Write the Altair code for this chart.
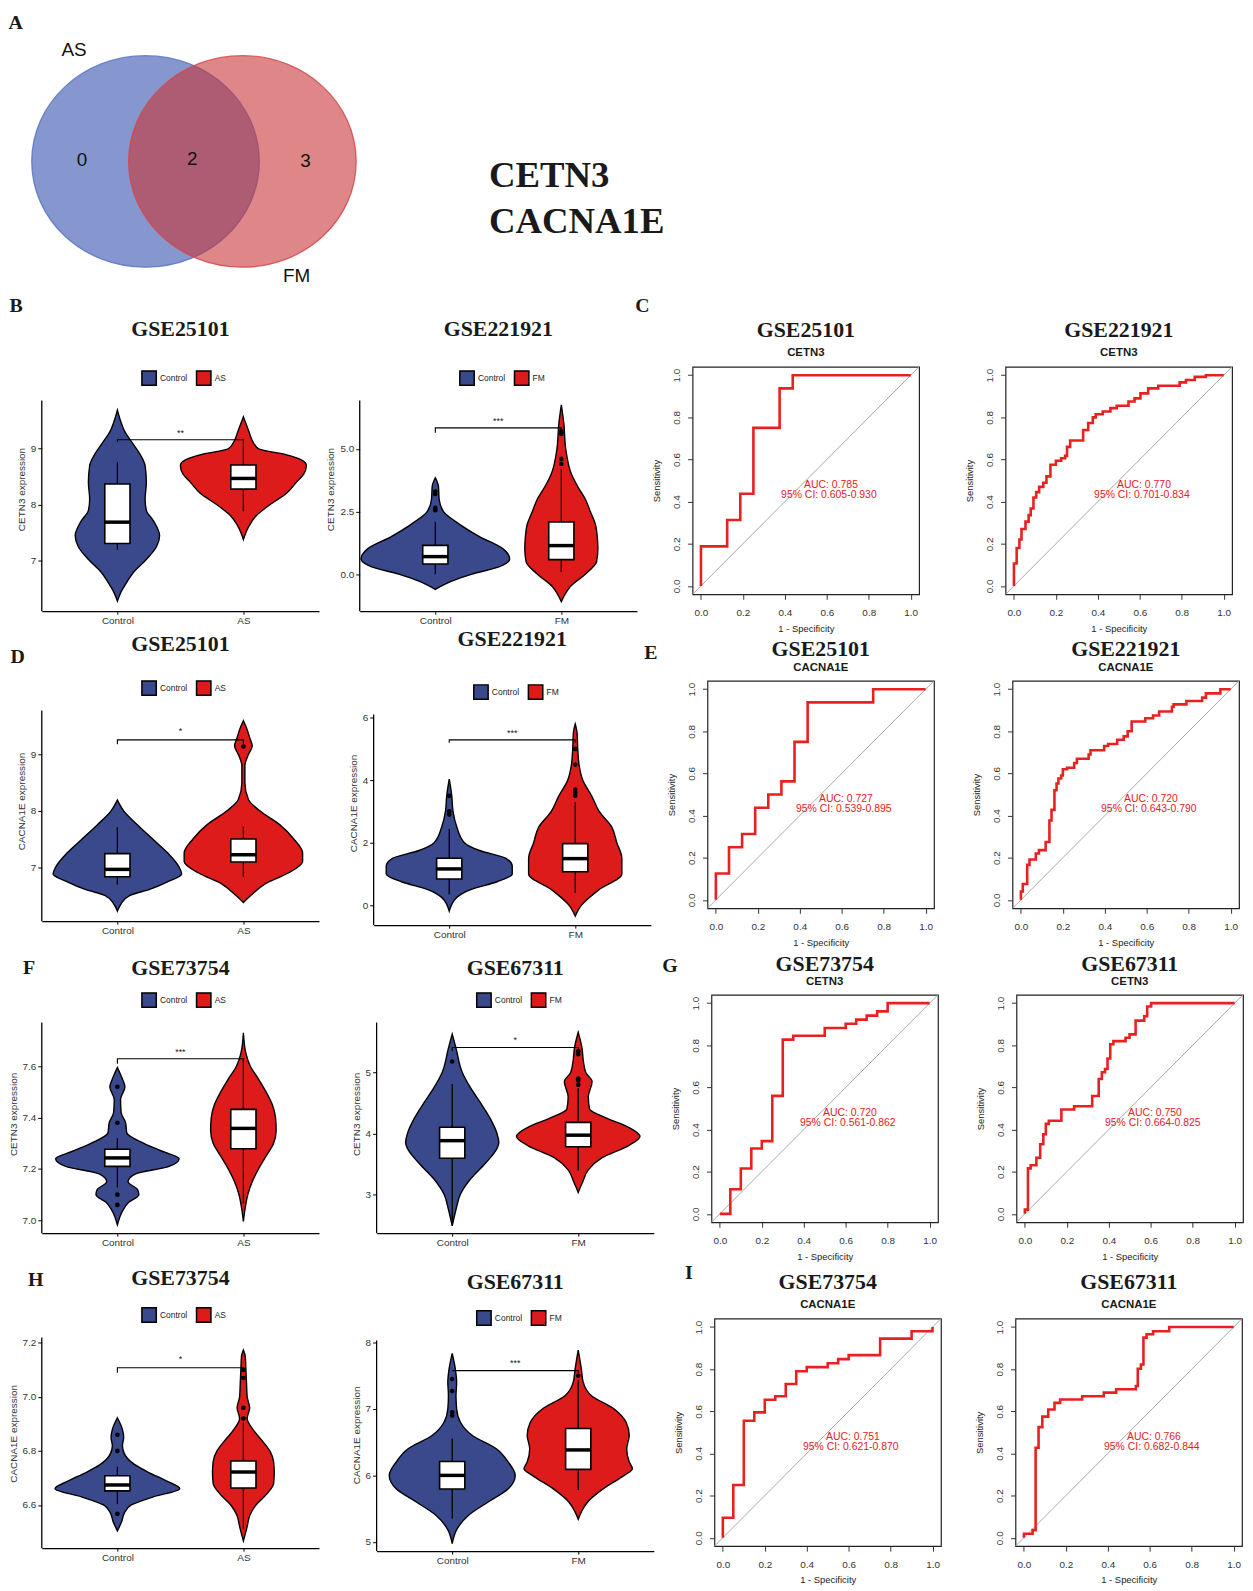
import altair as alt
import pandas as pd

# ---------------- colours / fonts ----------------
NAVY = "#3A488C"
RED = "#DC1B1A"
ROC_RED = "#E8201E"
DIAG_GREY = "#A8A8A8"
VENN_FILL = ["#3550AD", "#C83539"]
VENN_EDGE = ["#5B74C6", "#D4494D"]
SERIF = "Liberation Serif"
SANS = "Liberation Sans"
INK = "#1A1A1A"

# ---------------- Panel A: Venn ----------------
VENN_SETS = ["AS", "FM"]
VENN_REGION_COUNTS = ["0", "2", "3"]      # AS only, shared, FM only
SHARED_GENES = ["CETN3", "CACNA1E"]

# ---------------- violin data (expression level, half width) ----------------
GROUPS_AS = ["Control", "AS"]
GROUPS_FM = ["Control", "FM"]

# B left: GSE25101 CETN3
B1_CTRL_Y = [6.28, 6.45, 6.6, 6.8, 7.0, 7.25, 7.45, 7.7, 7.9, 8.1, 8.4, 8.7, 8.9, 9.1, 9.3, 9.5, 9.69]
B1_CTRL_W = [0.0, 0.03, 0.07, 0.13, 0.22, 0.31, 0.335, 0.29, 0.23, 0.22, 0.23, 0.22, 0.18, 0.12, 0.06, 0.025, 0.0]
B1_DIS_Y = [7.38, 7.6, 7.8, 8.0, 8.2, 8.4, 8.55, 8.7, 8.8, 8.9, 9.0, 9.15, 9.3, 9.45, 9.57]
B1_DIS_W = [0.0, 0.04, 0.1, 0.21, 0.34, 0.42, 0.48, 0.5, 0.46, 0.33, 0.12, 0.07, 0.045, 0.02, 0.0]
B1_CTRL_BOX = [7.2, 7.31, 7.69, 8.37, 8.76]
B1_DIS_BOX = [7.88, 8.28, 8.47, 8.71, 9.06]
B1_CTRL_OUT = []
B1_DIS_OUT = []
B1_BRACKET = [9.12, 9.16, 9.06]
B1_SIG = ["**", 9.28]

# B right: GSE221921 CETN3
B2_CTRL_Y = [-0.61, -0.3, 0.0, 0.3, 0.6, 1.0, 1.5, 2.0, 2.5, 3.0, 3.5, 3.85]
B2_CTRL_W = [0.0, 0.12, 0.29, 0.51, 0.59, 0.54, 0.35, 0.19, 0.065, 0.03, 0.025, 0.0]
B2_DIS_Y = [-1.1, -0.8, -0.5, 0.0, 0.5, 1.0, 1.5, 2.0, 2.5, 3.0, 3.5, 4.0, 5.0, 6.0, 6.76]
B2_DIS_W = [0.0, 0.03, 0.07, 0.19, 0.28, 0.29, 0.285, 0.27, 0.23, 0.19, 0.13, 0.08, 0.035, 0.02, 0.0]
B2_CTRL_BOX = [0.0, 0.405, 0.70, 1.15, 2.09]
B2_DIS_BOX = [0.09, 0.58, 1.14, 2.08, 4.19]
B2_CTRL_OUT = [2.55, 2.65, 3.2, 3.3]
B2_DIS_OUT = [4.4, 4.6, 5.6, 5.7]
B2_BRACKET = [5.65, 5.84, 5.6]
B2_SIG = ["***", 6.1]

# D left: GSE25101 CACNA1E
D1_CTRL_Y = [6.22, 6.35, 6.5, 6.6, 6.75, 6.88, 7.0, 7.25, 7.5, 7.75, 8.0, 8.19]
D1_CTRL_W = [0.0, 0.03, 0.1, 0.25, 0.41, 0.51, 0.49, 0.40, 0.28, 0.16, 0.05, 0.0]
D1_DIS_Y = [6.37, 6.5, 6.7, 6.9, 7.1, 7.25, 7.5, 7.75, 8.0, 8.2, 8.5, 8.8, 9.0, 9.15, 9.3, 9.5, 9.6]
D1_DIS_W = [0.0, 0.06, 0.17, 0.36, 0.47, 0.47, 0.40, 0.29, 0.13, 0.04, 0.012, 0.012, 0.04, 0.07, 0.05, 0.02, 0.0]
D1_CTRL_BOX = [6.69, 6.83, 6.96, 7.24, 7.71]
D1_DIS_BOX = [6.83, 7.09, 7.22, 7.5, 7.72]
D1_CTRL_OUT = []
D1_DIS_OUT = [9.14]
D1_BRACKET = [9.18, 9.26, 9.18]
D1_SIG = ["*", 9.42]

# D right: GSE221921 CACNA1E
D2_CTRL_Y = [-0.19, 0.25, 0.5, 0.75, 1.0, 1.25, 1.5, 1.75, 2.0, 2.5, 3.0, 3.5, 4.03]
D2_CTRL_W = [0.0, 0.06, 0.17, 0.38, 0.5, 0.5, 0.45, 0.24, 0.12, 0.06, 0.03, 0.02, 0.0]
D2_DIS_Y = [-0.35, 0.0, 0.5, 1.0, 1.5, 2.0, 2.5, 3.0, 3.5, 4.0, 4.5, 5.0, 5.5, 5.8]
D2_DIS_W = [0.0, 0.05, 0.19, 0.37, 0.37, 0.33, 0.29, 0.19, 0.13, 0.06, 0.03, 0.02, 0.015, 0.0]
D2_CTRL_BOX = [0.34, 0.84, 1.16, 1.5, 2.44]
D2_DIS_BOX = [0.39, 1.07, 1.49, 1.97, 3.29]
D2_CTRL_OUT = [2.9, 3.0, 3.5]
D2_DIS_OUT = [3.5, 3.6, 3.7, 4.5, 5.0]
D2_BRACKET = [5.2, 5.29, 5.2]
D2_SIG = ["***", 5.5]

# F left: GSE73754 CETN3
F1_CTRL_Y = [6.983, 7.04, 7.07, 7.1, 7.12, 7.15, 7.18, 7.21, 7.24, 7.27, 7.3, 7.34, 7.38, 7.42, 7.47, 7.52, 7.55, 7.595]
F1_CTRL_W = [0.0, 0.045, 0.09, 0.17, 0.16, 0.085, 0.14, 0.41, 0.49, 0.35, 0.21, 0.075, 0.065, 0.03, 0.025, 0.06, 0.04, 0.0]
F1_DIS_Y = [6.996, 7.05, 7.1, 7.15, 7.2, 7.25, 7.3, 7.35, 7.4, 7.45, 7.5, 7.55, 7.6, 7.65, 7.73]
F1_DIS_W = [0.0, 0.015, 0.035, 0.07, 0.12, 0.18, 0.24, 0.26, 0.255, 0.23, 0.18, 0.12, 0.055, 0.02, 0.0]
F1_CTRL_BOX = [7.128, 7.21, 7.243, 7.277, 7.32]
F1_DIS_BOX = [7.066, 7.279, 7.358, 7.432, 7.63]
F1_CTRL_OUT = [7.52, 7.38, 7.1, 7.06]
F1_DIS_OUT = []
F1_BRACKET = [7.61, 7.629, 7.62]
F1_SIG = ["***", 7.655]

# F right: GSE67311 CETN3
F2_CTRL_Y = [2.48, 2.75, 3.0, 3.25, 3.5, 3.75, 3.85, 4.0, 4.25, 4.5, 4.75, 5.0, 5.4, 5.63]
F2_CTRL_W = [0.0, 0.03, 0.065, 0.145, 0.26, 0.355, 0.37, 0.355, 0.3, 0.225, 0.145, 0.08, 0.03, 0.0]
F2_DIS_Y = [3.03, 3.2, 3.4, 3.6, 3.8, 3.95, 4.1, 4.25, 4.4, 4.6, 4.85, 5.0, 5.2, 5.4, 5.66]
F2_DIS_W = [0.0, 0.035, 0.08, 0.19, 0.4, 0.49, 0.4, 0.225, 0.09, 0.08, 0.11, 0.06, 0.04, 0.03, 0.0]
F2_CTRL_BOX = [2.55, 3.59, 3.88, 4.1, 4.81]
F2_DIS_BOX = [3.39, 3.78, 3.97, 4.18, 4.74]
F2_CTRL_OUT = [5.18]
F2_DIS_OUT = [4.8, 4.87, 4.9, 5.3, 5.35]
F2_BRACKET = [5.35, 5.41, 5.33]
F2_SIG = ["*", 5.54]

# H left: GSE73754 CACNA1E
H1_CTRL_Y = [6.504, 6.54, 6.57, 6.6, 6.63, 6.66, 6.69, 6.72, 6.75, 6.79, 6.82, 6.85, 6.88, 6.923]
H1_CTRL_W = [0.0, 0.035, 0.055, 0.11, 0.285, 0.495, 0.385, 0.25, 0.135, 0.055, 0.04, 0.05, 0.04, 0.0]
H1_DIS_Y = [6.467, 6.52, 6.56, 6.6, 6.64, 6.68, 6.72, 6.76, 6.8, 6.84, 6.88, 6.92, 6.96, 7.0, 7.05, 7.1, 7.15, 7.174]
H1_DIS_W = [0.0, 0.03, 0.05, 0.1, 0.185, 0.24, 0.245, 0.24, 0.21, 0.145, 0.075, 0.03, 0.05, 0.03, 0.025, 0.02, 0.015, 0.0]
H1_CTRL_BOX = [6.603, 6.652, 6.674, 6.708, 6.742]
H1_DIS_BOX = [6.51, 6.663, 6.722, 6.763, 6.905]
H1_CTRL_OUT = [6.86, 6.80, 6.567]
H1_DIS_OUT = [6.92, 6.96, 7.07, 7.1]
H1_BRACKET = [7.09, 7.108, 7.1]
H1_SIG = ["*", 7.14]

# H right: GSE67311 CACNA1E
H2_CTRL_Y = [4.975, 5.2, 5.4, 5.6, 5.8, 6.0, 6.2, 6.4, 6.6, 6.8, 7.0, 7.2, 7.4, 7.6, 7.836]
H2_CTRL_W = [0.0, 0.04, 0.13, 0.285, 0.445, 0.5, 0.445, 0.35, 0.16, 0.065, 0.035, 0.03, 0.035, 0.025, 0.0]
H2_DIS_Y = [5.34, 5.45, 5.6, 5.8, 6.0, 6.1, 6.2, 6.4, 6.6, 6.8, 7.0, 7.2, 7.4, 7.6, 7.886]
H2_DIS_W = [0.0, 0.025, 0.075, 0.2, 0.365, 0.43, 0.405, 0.385, 0.405, 0.38, 0.285, 0.105, 0.04, 0.025, 0.0]
H2_CTRL_BOX = [5.35, 5.796, 6.0, 6.21, 6.557]
H2_DIS_BOX = [5.78, 6.09, 6.383, 6.706, 7.44]
H2_CTRL_OUT = [6.9, 6.95, 7.27, 7.45]
H2_DIS_OUT = [7.5]
H2_BRACKET = [7.577, 7.577, 7.54]
H2_SIG = ["***", 7.69]

# ---------------- ROC curves (1 - specificity, sensitivity) ----------------
C1_FPR = [0, 0, 0.125, 0.1875, 0.25, 0.375, 0.4375, 1.0]
C1_TPR = [0, 0.1875, 0.3125, 0.4375, 0.75, 0.9375, 1.0, 1.0]
C1_AUC = ["0.785", "0.605-0.930"]

C2_FPR = [0, 0, 0.013, 0.026, 0.036, 0.055, 0.07, 0.08, 0.093, 0.106, 0.12, 0.14, 0.155, 0.174, 0.2, 0.225,
          0.244, 0.253, 0.268, 0.33, 0.354, 0.376, 0.39, 0.423, 0.46, 0.49, 0.546, 0.575, 0.603, 0.64, 0.688,
          0.79, 0.82, 0.862, 0.915, 1.0]
C2_TPR = [0, 0.106, 0.18, 0.22, 0.27, 0.305, 0.336, 0.367, 0.42, 0.445, 0.47, 0.49, 0.52, 0.575, 0.594, 0.606,
          0.617, 0.66, 0.69, 0.74, 0.773, 0.80, 0.815, 0.828, 0.844, 0.855, 0.875, 0.89, 0.914, 0.9375, 0.95,
          0.966, 0.977, 0.992, 1.0, 1.0]
C2_AUC = ["0.770", "0.701-0.834"]

E1_FPR = [0, 0, 0.0625, 0.125, 0.1875, 0.25, 0.3125, 0.375, 0.4375, 0.75, 1.0]
E1_TPR = [0, 0.125, 0.25, 0.3125, 0.4375, 0.5, 0.5625, 0.75, 0.9375, 1.0, 1.0]
E1_AUC = ["0.727", "0.539-0.895"]

E2_FPR = [0, 0, 0.009, 0.03, 0.041, 0.071, 0.086, 0.118, 0.136, 0.146, 0.16, 0.17, 0.179, 0.192, 0.2, 0.22,
          0.254, 0.267, 0.323, 0.332, 0.397, 0.416, 0.459, 0.49, 0.509, 0.528, 0.593, 0.63, 0.659, 0.72, 0.728,
          0.789, 0.864, 0.882, 0.951, 1.0]
E2_TPR = [0, 0.04, 0.075, 0.166, 0.192, 0.22, 0.236, 0.275, 0.377, 0.427, 0.52, 0.552, 0.576, 0.59, 0.62, 0.627,
          0.65, 0.67, 0.69, 0.71, 0.73, 0.74, 0.76, 0.776, 0.8, 0.847, 0.862, 0.875, 0.894, 0.917, 0.928, 0.944,
          0.96, 0.98, 1.0, 1.0]
E2_AUC = ["0.720", "0.643-0.790"]

G1_FPR = [0, 0.05, 0.1, 0.15, 0.2, 0.25, 0.3, 0.35, 0.5, 0.6, 0.65, 0.7, 0.75, 0.8, 1.0]
G1_TPR = [0, 0.117, 0.215, 0.31, 0.345, 0.56, 0.827, 0.845, 0.882, 0.902, 0.922, 0.941, 0.961, 1.0, 1.0]
G1_AUC = ["0.720", "0.561-0.862"]

G2_FPR = [0, 0, 0.0147, 0.0275, 0.055, 0.073, 0.088, 0.1, 0.114, 0.174, 0.235, 0.321, 0.352, 0.367, 0.382,
          0.394, 0.407, 0.422, 0.48, 0.499, 0.528, 0.569, 0.583, 0.602, 1.0]
G2_TPR = [0, 0.02, 0.216, 0.231, 0.266, 0.33, 0.378, 0.427, 0.442, 0.495, 0.511, 0.559, 0.64, 0.672, 0.6875,
          0.7375, 0.805, 0.82, 0.836, 0.852, 0.917, 0.9375, 0.984, 1.0, 1.0]
G2_AUC = ["0.750", "0.664-0.825"]

I1_FPR = [0, 0, 0.05, 0.1, 0.15, 0.2, 0.25, 0.3, 0.35, 0.4, 0.5, 0.55, 0.6, 0.75, 0.9, 1.0]
I1_TPR = [0, 0.095, 0.25, 0.555, 0.595, 0.655, 0.672, 0.73, 0.79, 0.81, 0.828, 0.848, 0.867, 0.945, 0.98, 1.0]
I1_AUC = ["0.751", "0.621-0.870"]

I2_FPR = [0, 0, 0.0415, 0.056, 0.07, 0.088, 0.116, 0.146, 0.173, 0.278, 0.381, 0.44, 0.534, 0.543, 0.558,
          0.57, 0.585, 0.616, 0.693, 1.0]
I2_TPR = [0, 0.019, 0.036, 0.427, 0.525, 0.575, 0.609, 0.64, 0.656, 0.672, 0.689, 0.705, 0.72, 0.802, 0.822,
          0.95, 0.966, 0.98, 1.0, 1.0]
I2_AUC = ["0.766", "0.682-0.844"]

AUC_TEXT_X = [0.62, 0.61]
AUC_TEXT_Y = [0.48, 0.43]

# ---------------- layout constants ----------------
VIO_W, VIO_VIS_H = 279, 212      # violin plot width / visible axis height
ROC_W, ROC_H = 228, 229
ROC_PAD = 0.04
BOX_HALF = 0.1

VENN_W, VENN_H = 700, 285
VENN_CX = [104.4, 201.9]
VENN_CY = 149.3
VENN_SIZE = 229 ** 2
VENN_REGION_X = [40.4, 151.4, 265.4]
VENN_REGION_Y = [148.3, 147.3, 149.3]
VENN_LABEL_X = [32.4, 256.4]
VENN_LABEL_Y = [36.7, 265]
GENE_X = 450
GENE_Y = [164.5, 210.2]
A_POS = [-26.4, 0]


def violin_panel(dataset, gene, groups, ctrl_y, ctrl_w, dis_y, dis_w, ctrl_box, dis_box,
                 ctrl_out, dis_out, bracket, sig, ydom, yticks, yfmt, pad, gap):
    disease = groups[1]
    vrows, brows, orows = [], [], []
    for pos, g, ys, ws, bx, outs in [(1, groups[0], ctrl_y, ctrl_w, ctrl_box, ctrl_out),
                                     (2, groups[1], dis_y, dis_w, dis_box, dis_out)]:
        for yv, wv in zip(ys, ws):
            vrows.append({"group": g, "pos": pos, "value": yv, "half": wv})
        brows.append({"group": g, "pos": pos, "lo": bx[0], "q1": bx[1], "med": bx[2], "q3": bx[3], "hi": bx[4]})
        for o in outs:
            orows.append({"pos": pos, "value": o})
    vdf = pd.DataFrame(vrows)
    bdf = pd.DataFrame(brows)
    kdf = pd.DataFrame({"k": [0, 1, 2, 3], "pos": [1, 1, 2, 2],
                        "value": [bracket[0], bracket[1], bracket[1], bracket[2]]})
    sdf = pd.DataFrame({"pos": [1.5], "value": [sig[1]], "label": [sig[0]]})
    adf = pd.DataFrame({"pos": [0.4], "lo": [ydom[0]], "hi": [ydom[1]]})

    # empty band above the axis so that the ROC boxes can sit higher in the row
    top = ydom[1] + pad * (ydom[1] - ydom[0]) / VIO_VIS_H
    xs = alt.Scale(domain=[0.4, 2.6], nice=False, zero=False)
    ys = alt.Scale(domain=[ydom[0], top], nice=False, zero=False)
    ytitle = f"{gene} expression"
    xaxis = alt.Axis(values=[1, 2], labelExpr=f"datum.value == 1 ? 'Control' : '{disease}'", title=None,
                     grid=False, domainColor="black", domainWidth=1.3, tickColor="black", tickSize=3,
                     labelFontSize=10, labelColor="#333333", labelPadding=1, labelFont=SANS)
    yaxis = alt.Axis(values=yticks, format=yfmt, title=ytitle, grid=False, domain=False,
                     tickColor="black", tickSize=4, labelFontSize=10, labelColor="#333333",
                     labelPadding=2, labelFont=SANS, titleFont=SANS, titleFontSize=10,
                     titleFontWeight="normal", titleColor="#333333", titlePadding=4)

    def X(f):
        return alt.X(f, type="quantitative", scale=xs, axis=xaxis, title=None)

    def Y(f):
        return alt.Y(f, type="quantitative", scale=ys, axis=yaxis, title=ytitle)

    legend = alt.Legend(title=None, orient="none", direction="horizontal", legendX=100, legendY=pad - 31,
                        symbolType="square", symbolSize=210, symbolStrokeColor="black",
                        symbolStrokeWidth=1.5, symbolOpacity=1, labelFontSize=8.5, labelFont=SANS,
                        labelColor="#222222", columnPadding=5, labelOffset=3)
    area = alt.Chart(vdf).transform_calculate(
        xl="datum.pos - datum.half", xr="datum.pos + datum.half"
    ).mark_area(orient="horizontal", interpolate="monotone", stroke="black", strokeWidth=1.4,
                fillOpacity=1).encode(
        y=Y("value"), x=X("xl"), x2="xr:Q",
        color=alt.Color("group:N", scale=alt.Scale(domain=groups, range=[NAVY, RED]), legend=legend))
    axis_line = alt.Chart(adf).mark_rule(color="black", strokeWidth=1.3).encode(
        x=X("pos"), y=Y("lo"), y2="hi:Q")
    whisk = alt.Chart(bdf).mark_rule(color="black", strokeWidth=1.3).encode(x=X("pos"), y=Y("lo"), y2="hi:Q")
    boxc = alt.Chart(bdf).transform_calculate(
        bl=f"datum.pos - {BOX_HALF}", br=f"datum.pos + {BOX_HALF}")
    box = boxc.mark_rect(fill="white", stroke="black", strokeWidth=1.6).encode(
        x=X("bl"), x2="br:Q", y=Y("q1"), y2="q3:Q")
    med = boxc.mark_rule(color="black", strokeWidth=3.5).encode(x=X("bl"), x2="br:Q", y=Y("med"))
    layers = [area, axis_line, whisk, box, med]
    if orows:
        layers.append(alt.Chart(pd.DataFrame(orows)).mark_circle(size=22, color="black", opacity=1).encode(
            x=X("pos"), y=Y("value")))
    layers.append(alt.Chart(kdf).mark_line(color="black", strokeWidth=1.1).encode(
        x=X("pos"), y=Y("value"), order="k:Q"))
    layers.append(alt.Chart(sdf).mark_text(fontSize=9, font=SANS, color="#222222", baseline="middle").encode(
        x=X("pos"), y=Y("value"), text="label:N"))
    toff = gap - 12 - pad + min(0, pad - 31)
    return alt.layer(*layers).properties(
        width=VIO_W, height=VIO_VIS_H + pad,
        title=alt.TitleParams(dataset, font=SERIF, fontSize=22, fontWeight="bold", color=INK, offset=toff,
                              anchor="middle"))


def roc_panel(dataset, gene, fpr, tpr, auc, sub_pad=5.6, t_off=6.7):
    cdf = pd.DataFrame({"step": list(range(len(fpr))), "fpr": fpr, "tpr": tpr})
    sc = alt.Scale(domain=[-ROC_PAD, 1 + ROC_PAD], nice=False, zero=False)
    ticks = [0, 0.2, 0.4, 0.6, 0.8, 1.0]
    xax = alt.Axis(values=ticks, format=".1f", title="1 - Specificity", domain=False, grid=False, tickSize=5,
                   tickColor="#333333", labelPadding=8, labelFontSize=10, labelColor="#333333", labelFont=SANS,
                   titleFont=SANS, titleFontSize=9.5, titlePadding=6, titleFontWeight="normal",
                   titleColor="#222222")
    yax = alt.Axis(values=ticks, format=".1f", title="Sensitivity", domain=False, grid=False, tickSize=5,
                   tickColor="#333333", labelPadding=6, labelAngle=270, labelAlign="center",
                   labelBaseline="bottom", labelFontSize=10, labelColor="#333333", labelFont=SANS,
                   titleFont=SANS, titleFontSize=9.5, titlePadding=10, titleFontWeight="normal",
                   titleColor="#222222")

    def X(f):
        return alt.X(f, type="quantitative", scale=sc, axis=xax, title="1 - Specificity")

    def Y(f):
        return alt.Y(f, type="quantitative", scale=sc, axis=yax, title="Sensitivity")

    ddf = pd.DataFrame({"a": [-ROC_PAD], "b": [1 + ROC_PAD]})
    diag = alt.Chart(ddf).mark_rule(color=DIAG_GREY, strokeWidth=1).encode(x=X("a"), y=Y("a"), x2="b:Q", y2="b:Q")
    curve = alt.Chart(cdf).mark_line(color=ROC_RED, strokeWidth=2.6, interpolate="step-after").encode(
        x=X("fpr"), y=Y("tpr"), order="step:Q")
    tdf = pd.DataFrame({"x": AUC_TEXT_X, "y": AUC_TEXT_Y,
                        "t": [f"AUC: {auc[0]}", f"95% CI: {auc[1]}"]})
    txt = alt.Chart(tdf).mark_text(color=ROC_RED, fontSize=10.5, font=SANS).encode(
        x=X("x"), y=Y("y"), text="t:N")
    return alt.layer(diag, curve, txt).properties(
        width=ROC_W, height=ROC_H,
        view=alt.ViewBackground(stroke="#222222", strokeWidth=1.2),
        title=alt.TitleParams(dataset, subtitle=gene, font=SERIF, fontSize=22, fontWeight="bold", color=INK,
                              subtitleFont=SANS, subtitleFontSize=11.5, subtitleFontWeight="bold",
                              subtitleColor=INK, subtitlePadding=sub_pad, offset=t_off, anchor="middle"))


def letter_title(letter, dx, dy):
    return alt.TitleParams(letter, anchor="start", frame="bounds", font=SERIF, fontSize=20, fontWeight="bold",
                           color=INK, offset=2, dx=dx, dy=dy)


def row(left, right, letters, s1, mid, s2, dxs, dys):
    pl = alt.hconcat(*left, spacing=s1, title=letter_title(letters[0], dxs[0], dys[0])).resolve_scale(
        color="independent")
    pr = alt.hconcat(*right, spacing=s2, title=letter_title(letters[1], dxs[1], dys[1])).resolve_scale(
        color="independent")
    return alt.hconcat(pl, pr, spacing=mid).resolve_scale(color="independent")


# ---------------- Venn ----------------
vx = alt.Scale(domain=[0, VENN_W], nice=False, zero=False)
vy = alt.Scale(domain=[0, VENN_H], nice=False, zero=False, reverse=True)
ELLIPSE = "M -1 0 A 1 0.93 0 1 1 1 0 A 1 0.93 0 1 1 -1 0 Z"
circ_df = pd.DataFrame({"set": VENN_SETS, "cx": VENN_CX, "cy": [VENN_CY, VENN_CY]})
circles = alt.Chart(circ_df).mark_point(shape=ELLIPSE, size=VENN_SIZE, filled=True, opacity=1, fillOpacity=0.6,
                                        strokeOpacity=0.85, strokeWidth=1.3).encode(
    x=alt.X("cx:Q", scale=vx, axis=None), y=alt.Y("cy:Q", scale=vy, axis=None),
    fill=alt.Fill("set:N", scale=alt.Scale(domain=VENN_SETS, range=VENN_FILL), legend=None),
    stroke=alt.Stroke("set:N", scale=alt.Scale(domain=VENN_SETS, range=VENN_EDGE), legend=None))
cnt_df = pd.DataFrame({"n": VENN_REGION_COUNTS, "x": VENN_REGION_X, "y": VENN_REGION_Y})
counts = alt.Chart(cnt_df).mark_text(fontSize=19, font=SANS, color="#111111").encode(
    x=alt.X("x:Q", scale=vx, axis=None), y=alt.Y("y:Q", scale=vy, axis=None), text="n:N")
lab_df = pd.DataFrame({"s": VENN_SETS, "x": VENN_LABEL_X, "y": VENN_LABEL_Y})
setlabels = alt.Chart(lab_df).mark_text(fontSize=19, font=SANS, color="#111111").encode(
    x=alt.X("x:Q", scale=vx, axis=None), y=alt.Y("y:Q", scale=vy, axis=None), text="s:N")
gene_df = pd.DataFrame({"g": SHARED_GENES, "x": [GENE_X, GENE_X], "y": GENE_Y})
genes = alt.Chart(gene_df).mark_text(fontSize=37, font=SERIF, fontWeight="bold", color=INK, align="left").encode(
    x=alt.X("x:Q", scale=vx, axis=None), y=alt.Y("y:Q", scale=vy, axis=None), text="g:N")
a_df = pd.DataFrame({"t": ["A"], "x": [A_POS[0]], "y": [A_POS[1]]})
a_lab = alt.Chart(a_df).mark_text(fontSize=20, font=SERIF, fontWeight="bold", color=INK, baseline="top").encode(
    x=alt.X("x:Q", scale=vx, axis=None), y=alt.Y("y:Q", scale=vy, axis=None), text="t:N")
venn = alt.layer(circles, counts, setlabels, genes, a_lab).properties(width=VENN_W, height=VENN_H)

# ---------------- rows ----------------
vB1 = violin_panel("GSE25101", "CETN3", GROUPS_AS, B1_CTRL_Y, B1_CTRL_W, B1_DIS_Y, B1_DIS_W, B1_CTRL_BOX,
                   B1_DIS_BOX, B1_CTRL_OUT, B1_DIS_OUT, B1_BRACKET, B1_SIG, [6.1, 9.86], [7, 8, 9], "d", 34, 72)
vB2 = violin_panel("GSE221921", "CETN3", GROUPS_FM, B2_CTRL_Y, B2_CTRL_W, B2_DIS_Y, B2_DIS_W, B2_CTRL_BOX,
                   B2_DIS_BOX, B2_CTRL_OUT, B2_DIS_OUT, B2_BRACKET, B2_SIG, [-1.48, 6.93], [0, 2.5, 5.0], ".1f",
                   34, 72)
vD1 = violin_panel("GSE25101", "CACNA1E", GROUPS_AS, D1_CTRL_Y, D1_CTRL_W, D1_DIS_Y, D1_DIS_W, D1_CTRL_BOX,
                   D1_DIS_BOX, D1_CTRL_OUT, D1_DIS_OUT, D1_BRACKET, D1_SIG, [6.04, 9.78], [7, 8, 9], "d", 30, 67)
vD2 = violin_panel("GSE221921", "CACNA1E", GROUPS_FM, D2_CTRL_Y, D2_CTRL_W, D2_DIS_Y, D2_DIS_W, D2_CTRL_BOX,
                   D2_DIS_BOX, D2_CTRL_OUT, D2_DIS_OUT, D2_BRACKET, D2_SIG, [-0.64, 6.1], [0, 2, 4, 6], "d", 34, 76)
vF1 = violin_panel("GSE73754", "CETN3", GROUPS_AS, F1_CTRL_Y, F1_CTRL_W, F1_DIS_Y, F1_DIS_W, F1_CTRL_BOX,
                   F1_DIS_BOX, F1_CTRL_OUT, F1_DIS_OUT, F1_BRACKET, F1_SIG, [6.95, 7.77], [7.0, 7.2, 7.4, 7.6],
                   ".1f", 28, 55)
vF2 = violin_panel("GSE67311", "CETN3", GROUPS_FM, F2_CTRL_Y, F2_CTRL_W, F2_DIS_Y, F2_DIS_W, F2_CTRL_BOX,
                   F2_DIS_BOX, F2_CTRL_OUT, F2_DIS_OUT, F2_BRACKET, F2_SIG, [2.36, 5.82], [3, 4, 5], "d", 28, 55)
vH1 = violin_panel("GSE73754", "CACNA1E", GROUPS_AS, H1_CTRL_Y, H1_CTRL_W, H1_DIS_Y, H1_DIS_W, H1_CTRL_BOX,
                   H1_DIS_BOX, H1_CTRL_OUT, H1_DIS_OUT, H1_BRACKET, H1_SIG, [6.44, 7.22], [6.6, 6.8, 7.0, 7.2],
                   ".1f", 19, 60)
vH2 = violin_panel("GSE67311", "CACNA1E", GROUPS_FM, H2_CTRL_Y, H2_CTRL_W, H2_DIS_Y, H2_DIS_W, H2_CTRL_BOX,
                   H2_DIS_BOX, H2_CTRL_OUT, H2_DIS_OUT, H2_BRACKET, H2_SIG, [4.86, 8.03], [5, 6, 7, 8], "d", 22, 59)

rC1 = roc_panel("GSE25101", "CETN3", C1_FPR, C1_TPR, C1_AUC)
rC2 = roc_panel("GSE221921", "CETN3", C2_FPR, C2_TPR, C2_AUC)
rE1 = roc_panel("GSE25101", "CACNA1E", E1_FPR, E1_TPR, E1_AUC, 1.6, 5.5)
rE2 = roc_panel("GSE221921", "CACNA1E", E2_FPR, E2_TPR, E2_AUC, 1.6, 5.5)
rG1 = roc_panel("GSE73754", "CETN3", G1_FPR, G1_TPR, G1_AUC, 0, 5.5)
rG2 = roc_panel("GSE67311", "CETN3", G2_FPR, G2_TPR, G2_AUC, 0, 5.5)
rI1 = roc_panel("GSE73754", "CACNA1E", I1_FPR, I1_TPR, I1_AUC)
rI2 = roc_panel("GSE67311", "CACNA1E", I2_FPR, I2_TPR, I2_AUC)

rowB = row([vB1, vB2], [rC1, rC2], ["B", "C"], 7, -2, 43, [-7, -16], [0, 0])
rowD = row([vD1, vD2], [rE1, rE2], ["D", "E"], 29, -7, 35, [-6, -22], [41, 28])
rowF = row([vF1, vF2], [rG1, rG2], ["F", "G"], 32, 8, 35, [15, -8], [23, 25])
rowH = row([vH1, vH2], [rI1, rI2], ["H", "I"], 32, 19, 31, [20, 12], [25, 15])

bottom = alt.vconcat(rowF, rowH, spacing=1).resolve_scale(color="independent")
lower = alt.vconcat(rowD, bottom, spacing=4).resolve_scale(color="independent")
middle = alt.vconcat(rowB, lower, spacing=-6).resolve_scale(color="independent")
chart = alt.vconcat(venn, middle, spacing=0).resolve_scale(
    color="independent", fill="independent", stroke="independent"
).properties(padding=0).configure_view(stroke=None)

chart.save("out.html", embed_options={"renderer": "svg", "actions": False})
